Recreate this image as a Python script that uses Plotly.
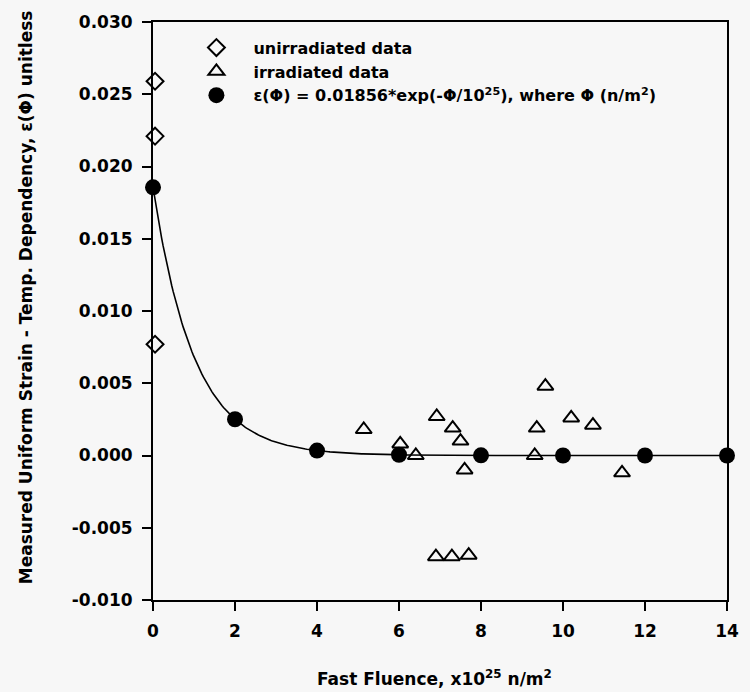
import numpy as np
import plotly.graph_objects as go

# Unirradiated specimens (plotted just off the zero-fluence axis)
unirr_fluence = [0.05, 0.05, 0.05]
unirr_strain = [0.0259, 0.0221, 0.0077]

# Irradiated specimens, fluence in 1e25 n/m^2
irr_fluence = [5.14, 6.03, 6.41, 6.92, 7.31, 7.50, 7.60, 6.90, 7.29, 7.70,
               9.57, 9.36, 9.31, 10.20, 10.73, 11.44]
irr_strain = [0.0018, 0.0008, 0.0000, 0.0027, 0.0019, 0.0010, -0.0010,
              -0.0070, -0.0070, -0.0069, 0.0048, 0.0019, 0.0000, 0.0026,
              0.0021, -0.0012]

# Fitted model eps(phi) = A*exp(-phi/1e25), evaluated at the marked fluences
fit_coeff = 0.01856
fit_fluence = [0, 2, 4, 6, 8, 10, 12, 14]
fit_strain = [0.01856, 0.00251, 0.00034, 0.00005, 0.00001, 0.0, 0.0, 0.0]

x_ticks = [0, 2, 4, 6, 8, 10, 12, 14]
y_ticks = [-0.010, -0.005, 0.000, 0.005, 0.010, 0.015, 0.020, 0.025, 0.030]
y_tick_text = ["-0.010", "-0.005", "0.000", "0.005", "0.010", "0.015",
               "0.020", "0.025", "0.030"]

FONT = "DejaVu Sans"
BG = "#f7f7f7"

curve_x = np.linspace(0, 14, 400)
curve_y = fit_coeff * np.exp(-curve_x)

fig = go.Figure()

fig.add_trace(go.Scatter(
    x=curve_x, y=curve_y, mode="lines",
    line=dict(color="black", width=1.6),
    showlegend=False, hoverinfo="skip", cliponaxis=False,
))

fig.add_trace(go.Scatter(
    x=unirr_fluence, y=unirr_strain, mode="markers",
    name="unirradiated data",
    marker=dict(symbol="diamond-open", size=13, color="black",
                line=dict(width=2, color="black")),
    cliponaxis=False,
))

fig.add_trace(go.Scatter(
    x=irr_fluence, y=irr_strain, mode="markers",
    name="irradiated data",
    marker=dict(symbol="triangle-up-open", size=14, color="black",
                line=dict(width=2, color="black")),
    cliponaxis=False,
))

fig.add_trace(go.Scatter(
    x=fit_fluence, y=fit_strain, mode="markers",
    name="ε(Φ) = 0.01856*exp(-Φ/10<sup>25</sup>), where Φ (n/m<sup>2</sup>)",
    marker=dict(symbol="circle", size=16, color="black"),
    cliponaxis=False,
))

fig.update_xaxes(
    range=[0, 14], tickvals=x_ticks,
    ticks="outside", ticklen=9, tickwidth=2, tickcolor="black",
    showline=True, linecolor="black", linewidth=2, mirror=True,
    showgrid=False, zeroline=False,
    tickfont=dict(family=FONT, size=17, color="black", weight="bold"),
    ticklabelstandoff=6,
)
fig.update_yaxes(
    range=[-0.010, 0.030], tickvals=y_ticks, ticktext=y_tick_text,
    ticks="outside", ticklen=9, tickwidth=2, tickcolor="black",
    showline=True, linecolor="black", linewidth=2, mirror=True,
    showgrid=False, zeroline=False,
    tickfont=dict(family=FONT, size=17, color="black", weight="bold"),
    ticklabelstandoff=6,
)

fig.add_annotation(
    text="Fast Fluence, x10<sup>25</sup> n/m<sup>2</sup>",
    xref="paper", yref="paper", x=0.49, y=-0.135,
    xanchor="center", yanchor="middle", showarrow=False,
    font=dict(family=FONT, size=17, color="black", weight="bold"),
)
fig.add_annotation(
    text="Measured Uniform Strain - Temp. Dependency, ε(Φ) unitless",
    xref="paper", yref="paper", x=-0.221, y=0.524,
    xanchor="center", yanchor="middle", textangle=-90, showarrow=False,
    font=dict(family=FONT, size=17, color="black", weight="bold"),
)

fig.update_layout(
    width=750, height=692,
    margin=dict(l=153, r=11, t=22, b=92),
    paper_bgcolor=BG, plot_bgcolor=BG,
    showlegend=True,
    legend=dict(
        x=0.046, y=0.985, xanchor="left", yanchor="top",
        bgcolor="rgba(0,0,0,0)", borderwidth=0,
        font=dict(family=FONT, size=16, color="black", weight="bold"),
        itemwidth=64, tracegroupgap=0,
    ),
)

fig.write_html("out.html")
